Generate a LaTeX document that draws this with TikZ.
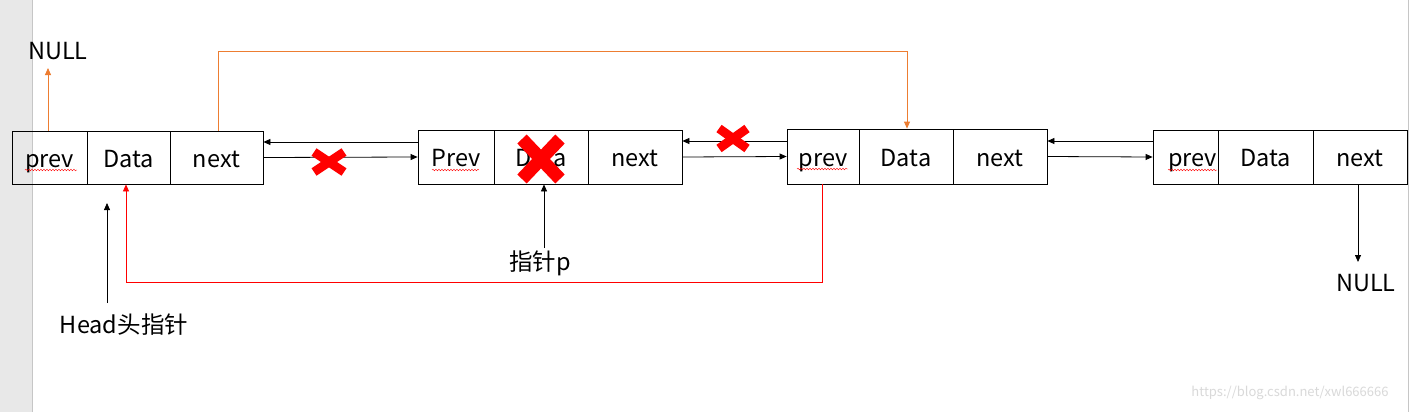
\documentclass[tikz,border=0pt]{standalone}
\usepackage{fontspec}
\setmainfont{Noto Sans CJK SC}
\usetikzlibrary{arrows.meta,decorations.pathmorphing}
\definecolor{orln}{RGB}{237,125,49}
\tikzset{
  cell/.style={draw=black, line width=0.8pt, inner sep=0pt, text height=20pt, text depth=1pt, font=\fontsize{23.5}{26}\selectfont},
  arr/.style={draw=black, line width=0.8pt, -{Triangle[length=7pt,width=6pt]}},
  oarr/.style={draw=orln, line width=0.8pt, -{Triangle[length=7pt,width=6pt]}},
  rarr/.style={draw=red, line width=0.8pt, -{Triangle[length=7pt,width=6pt]}},
  lbl/.style={inner sep=0pt, font=\fontsize{23.5}{26}\selectfont},
  xmark/.style={draw=red, line width=9pt},
  bigx/.style={draw=red, line width=13pt},
  squig/.style={draw=red, line width=0.4pt, decorate, decoration={snake, amplitude=0.8pt, segment length=3pt}},
}
\begin{document}
\begin{tikzpicture}[x=1pt,y=-1pt]
\useasboundingbox (0,0) rectangle (1410,412);
\fill[white] (0,0) rectangle (1410,412);
\fill[gray!18] (0,0) rectangle (32,412);
\draw[gray!45, line width=1pt] (32.5,0) -- (32.5,412);
\draw[gray!45, line width=1.5pt] (1408.5,0) -- (1408.5,412);

% node 1
\node[cell, minimum width=75pt, minimum height=53pt] (n1p) at (49.5,157.5) {prev};
\node[cell, minimum width=83pt, minimum height=53pt] (n1d) at (128.5,157.5) {Data};
\node[cell, minimum width=93pt, minimum height=53pt] (n1n) at (216.5,157.5) {next};
% node 2
\node[cell, minimum width=76pt, minimum height=54pt] (n2p) at (456,157) {Prev};
\node[cell, minimum width=94pt, minimum height=54pt] (n2d) at (541,157) {Data};
\node[cell, minimum width=94pt, minimum height=54pt] (n2n) at (635,157) {next};
% node 3
\node[cell, minimum width=72pt, minimum height=55pt] (n3p) at (823,156.5) {prev};
\node[cell, minimum width=94pt, minimum height=55pt] (n3d) at (906,156.5) {Data};
\node[cell, minimum width=94pt, minimum height=55pt] (n3n) at (1000,156.5) {next};
% node 4
\node[cell, minimum width=65pt, minimum height=54pt] (n4p) at (1185.5,157) {};
\node[cell, draw=none, anchor=east] (n4pt) at ([xshift=-1pt]n4p.east) {prev};
\node[cell, minimum width=95pt, minimum height=54pt] (n4d) at (1265.5,157) {Data};
\node[cell, minimum width=94pt, minimum height=54pt] (n4n) at (1360,157) {next};

% spell-check squiggles
\draw[squig] (25,170) -- (77,170);
\draw[squig] (432,170) -- (479,170);
\draw[squig] (797,169) -- (848,169);
\draw[squig] (1168,170) -- (1217,170);

% labels
\node[lbl] (nulla) at (58,51) {NULL};
\node[lbl] (nullb) at (1366,283) {NULL};
\node[lbl] (ptrp) at (540,263) {指针p};
\node[lbl] (head) at (124,325) {Head头指针};
\node[inner sep=0pt, text=gray!30, font=\fontsize{13}{15}\selectfont] (wm) at (1290,393) {https://blog.csdn.net/xwl666666};

% orange connectors
\coordinate (oc0) at (48,68);
\draw[oarr] (n1p.north -| oc0) -- (oc0);
\coordinate (oc1) at (218,51);
\coordinate (oc2) at (907,51);
\draw[oarr] (n1n.north -| oc1) -- (oc1) -- (oc2) -- (n3d.north -| oc2);

% links between nodes
\draw[arr] ([yshift=15pt]n2p.west) -- ([yshift=15pt]n2p.west -| n1n.east);
\draw[arr] (n1n.east) -- (n2p.west);
\draw[arr] ([yshift=15.5pt]n3p.west) -- ([yshift=15.5pt]n3p.west -| n2n.east);
\draw[arr] (n2n.east) -- (n3p.west);
\draw[arr] ([yshift=16pt]n4p.west) -- ([yshift=16pt]n4p.west -| n3n.east);
\draw[arr] (n3n.east) -- (n4p.west);

% next of node 4 to NULL
\coordinate (nb) at (1358,262);
\draw[arr] (n4n.south -| nb) -- (nb);

% pointer p
\draw[arr] ([yshift=2pt]ptrp.north -| 544,0) -- (n2d.south -| 544,0);
% red connector
\coordinate (rc1) at (822,282);
\coordinate (rc2) at (126,282);
\draw[rarr] (n3p.south -| rc1) -- (rc1) -- (rc2) -- (n1d.south -| rc2);
% head pointer
\coordinate (hp) at (107,303);
\coordinate (hq) at (107,203);
\draw[arr] (hp) -- (hq);

% red crosses
\coordinate (x1) at (329,162);
\coordinate (x2) at (733,138.5);
\coordinate (x3) at (541,159);
\draw[xmark] ([shift={(-15,-10)}]x1) -- ([shift={(15,10)}]x1);
\draw[xmark] ([shift={(-15,10)}]x1) -- ([shift={(15,-10)}]x1);
\draw[xmark] ([shift={(-14,-10)}]x2) -- ([shift={(14,10)}]x2);
\draw[xmark] ([shift={(-14,10)}]x2) -- ([shift={(14,-10)}]x2);
\draw[bigx] ([shift={(-19,-20)}]x3) -- ([shift={(19,20)}]x3);
\draw[bigx] ([shift={(-19,20)}]x3) -- ([shift={(19,-20)}]x3);
\end{tikzpicture}
\end{document}
